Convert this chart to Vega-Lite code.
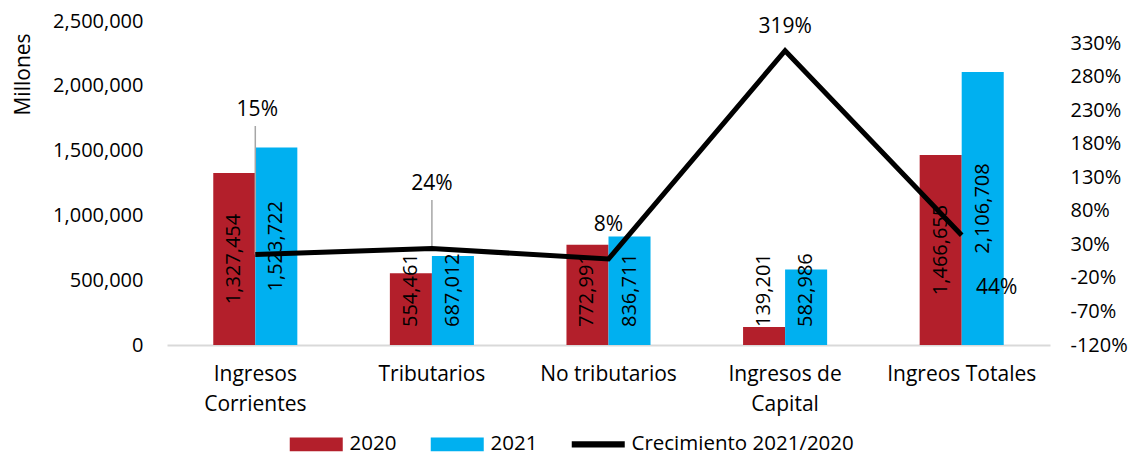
{
  "$schema": "https://vega.github.io/schema/vega-lite/v6.json",
  "width": 883,
  "height": 324,
  "autosize": {"type": "none"},
  "padding": {"left": 167, "top": 21, "right": 87, "bottom": 111},
  "background": "white",
  "config": {
    "font": "Open Sans",
    "view": {"stroke": null},
    "axis": {"grid": false, "ticks": false, "tickSize": 0, "labelColor": "#000000", "labelFont": "Open Sans", "labelFontSize": 20, "titleFont": "Open Sans", "titleColor": "#000000", "titleFontWeight": "normal"},
    "axisX": {"labelAngle": 0, "labelFontSize": 21, "labelPadding": 18, "labelLineHeight": 30, "domainColor": "#D9D9D9", "domainWidth": 2},
    "text": {"font": "Open Sans", "color": "#000000"}
  },
  "datasets": {
    "bars": [
      {"cat": "Ingresos Corrientes", "year": "2020", "value": 1327454},
      {"cat": "Ingresos Corrientes", "year": "2021", "value": 1523722},
      {"cat": "Tributarios", "year": "2020", "value": 554461},
      {"cat": "Tributarios", "year": "2021", "value": 687012},
      {"cat": "No tributarios", "year": "2020", "value": 772991},
      {"cat": "No tributarios", "year": "2021", "value": 836711},
      {"cat": "Ingresos de Capital", "year": "2020", "value": 139201},
      {"cat": "Ingresos de Capital", "year": "2021", "value": 582986},
      {"cat": "Ingreos Totales", "year": "2020", "value": 1466655},
      {"cat": "Ingreos Totales", "year": "2021", "value": 2106708}
    ],
    "growth": [
      {"cat": "Ingresos Corrientes", "growth": 0.148},
      {"cat": "Tributarios", "growth": 0.239},
      {"cat": "No tributarios", "growth": 0.082},
      {"cat": "Ingresos de Capital", "growth": 3.188},
      {"cat": "Ingreos Totales", "growth": 0.436}
    ]
  },
  "layer": [
    {
      "data": {"name": "bars"},
      "encoding": {
        "x": {
          "field": "cat", "type": "nominal", "sort": null,
          "scale": {"paddingInner": 0.524, "paddingOuter": 0.262},
          "axis": {"title": null, "labelExpr": "datum.label == 'Ingresos Corrientes' ? ['Ingresos', 'Corrientes'] : datum.label == 'Ingresos de Capital' ? ['Ingresos de', 'Capital'] : datum.label"}
        },
        "xOffset": {"field": "year", "type": "nominal", "scale": {"paddingInner": 0, "paddingOuter": 0}}
      },
      "layer": [
        {
          "mark": {"type": "bar"},
          "encoding": {
            "y": {
              "field": "value", "type": "quantitative",
              "scale": {"domain": [0, 2500000], "nice": false, "zero": true},
              "axis": {"orient": "left", "values": [0, 500000, 1000000, 1500000, 2000000, 2500000], "format": ",.0f", "labelPadding": 24, "labelFontSize": 20, "domain": false, "title": "Millones", "titleFontSize": 21, "titleX": -144, "titleY": 53, "titleAlign": "center", "titleBaseline": "middle", "titleAngle": -90}
            },
            "color": {
              "field": "year", "type": "nominal",
              "scale": {"domain": ["2020", "2021", "Crecimiento 2021/2020"], "range": ["#B31F2B", "#00B0F0", "#000000"]},
              "legend": {
                "orient": "none", "legendX": 139, "legendY": 413, "direction": "horizontal", "title": null,
                "labelFont": "Open Sans", "labelFontSize": 20.5, "labelColor": "#000000", "labelOffset": 23, "labelLimit": 400,
                "columnPadding": 33, "padding": 0, "symbolSize": 2809,
                "encode": {
                  "symbols": {
                    "update": {
                      "shape": {"signal": "datum.value === 'Crecimiento 2021/2020' ? 'M-1,-0.12H1V0.12H-1Z' : 'M-1,-0.264H1V0.264H-1Z'"},
                      "strokeWidth": {"signal": "datum.value === 'Crecimiento 2021/2020' ? 0 : 0"},
                      "stroke": {"signal": "'transparent'"},
                      "fill": {"signal": "scale('color', datum.value)"},
                      "opacity": {"value": 1},
                      "fillOpacity": {"value": 1},
                      "strokeOpacity": {"value": 0}
                    }
                  }
                }
              }
            }
          }
        },
        {
          "transform": [{"filter": "datum.value > 1000000"}, {"calculate": "datum.value / 2", "as": "mid"}],
          "mark": {"type": "text", "angle": 270, "align": "center", "baseline": "middle", "fontSize": 20},
          "encoding": {
            "y": {"field": "mid", "type": "quantitative",
              "axis": {"orient": "left", "values": [0, 500000, 1000000, 1500000, 2000000, 2500000], "format": ",.0f", "labelPadding": 24, "labelFontSize": 20, "domain": false, "title": "Millones", "titleFontSize": 21, "titleX": -144, "titleY": 53, "titleAlign": "center", "titleBaseline": "middle", "titleAngle": -90}},
            "text": {"field": "value", "type": "quantitative", "format": ","}
          }
        },
        {
          "transform": [{"filter": "datum.value <= 1000000"}],
          "mark": {"type": "text", "angle": 270, "align": "left", "baseline": "middle", "fontSize": 20, "dx": 18},
          "encoding": {
            "y": {"datum": 0, "type": "quantitative",
              "axis": {"orient": "left", "values": [0, 500000, 1000000, 1500000, 2000000, 2500000], "format": ",.0f", "labelPadding": 24, "labelFontSize": 20, "domain": false, "title": "Millones", "titleFontSize": 21, "titleX": -144, "titleY": 53, "titleAlign": "center", "titleBaseline": "middle", "titleAngle": -90}},
            "text": {"field": "value", "type": "quantitative", "format": ","}
          }
        }
      ]
    },
    {
      "data": {"name": "growth"},
      "encoding": {
        "x": {
          "field": "cat", "type": "nominal", "sort": null,
          "axis": {"title": null, "labelExpr": "datum.label == 'Ingresos Corrientes' ? ['Ingresos', 'Corrientes'] : datum.label == 'Ingresos de Capital' ? ['Ingresos de', 'Capital'] : datum.label"}
        },
        "y": {
          "field": "growth", "type": "quantitative",
          "scale": {"domain": [-1.2, 3.63], "nice": false, "zero": false},
          "axis": {"orient": "right", "values": [-1.2, -0.7, -0.2, 0.3, 0.8, 1.3, 1.8, 2.3, 2.8, 3.3], "format": ".0%", "labelExpr": "replace(datum.label, '\u2212', '-')", "labelPadding": 20, "labelFontSize": 20, "domain": false, "title": null}
        }
      },
      "layer": [
        {
          "transform": [{"filter": "datum.cat == 'Ingresos Corrientes'"}],
          "mark": {"type": "rule", "color": "#A6A6A6", "strokeWidth": 1.5},
          "encoding": {"y2": {"datum": 2.065}}
        },
        {
          "transform": [{"filter": "datum.cat == 'Tributarios'"}],
          "mark": {"type": "rule", "color": "#A6A6A6", "strokeWidth": 1.5},
          "encoding": {"y2": {"datum": 0.962}}
        },
        {
          "mark": {"type": "line", "strokeWidth": 5, "strokeJoin": "miter"},
          "encoding": {"color": {"datum": "Crecimiento 2021/2020"}}
        },
        {
          "transform": [{"filter": "datum.cat == 'Ingresos Corrientes'"}],
          "mark": {"type": "text", "fontSize": 21, "baseline": "middle", "dy": -145, "dx": 2},
          "encoding": {"text": {"field": "growth", "type": "quantitative", "format": ".0%"}}
        },
        {
          "transform": [{"filter": "datum.cat == 'Tributarios'"}],
          "mark": {"type": "text", "fontSize": 21, "baseline": "middle", "dy": -64},
          "encoding": {"text": {"field": "growth", "type": "quantitative", "format": ".0%"}}
        },
        {
          "transform": [{"filter": "datum.cat == 'No tributarios'"}],
          "mark": {"type": "text", "fontSize": 21, "baseline": "middle", "dy": -34},
          "encoding": {"text": {"field": "growth", "type": "quantitative", "format": ".0%"}}
        },
        {
          "transform": [{"filter": "datum.cat == 'Ingresos de Capital'"}],
          "mark": {"type": "text", "fontSize": 21, "baseline": "middle", "dy": -24},
          "encoding": {"text": {"field": "growth", "type": "quantitative", "format": ".0%"}}
        },
        {
          "transform": [{"filter": "datum.cat == 'Ingreos Totales'"}],
          "mark": {"type": "text", "fontSize": 21, "baseline": "middle", "dy": 53, "dx": 35},
          "encoding": {"text": {"field": "growth", "type": "quantitative", "format": ".0%"}}
        }
      ]
    }
  ],
  "resolve": {"scale": {"y": "independent"}}
}
